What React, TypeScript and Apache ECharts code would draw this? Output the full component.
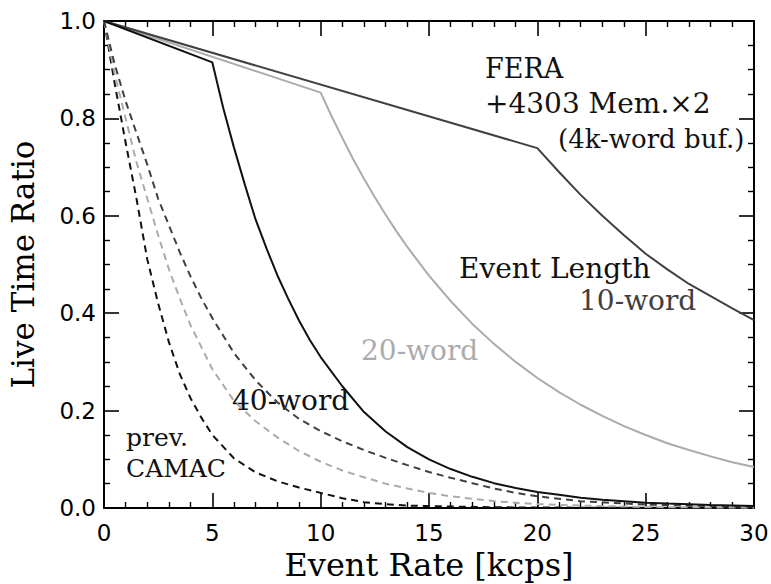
import React, { useEffect, useRef } from "react";
import * as echarts from "echarts";

// Event rate [kcps] vs live time ratio
const feraWord40: [number, number][] = [
  [0, 1], [5, 0.915], [5.5, 0.822], [6, 0.74], [6.5, 0.664], [7, 0.592], [7.5, 0.533], [8, 0.478],
  [8.5, 0.43], [9, 0.385], [9.5, 0.345], [10, 0.31], [11, 0.25], [12, 0.197], [13, 0.157], [14, 0.125],
  [15, 0.1], [16, 0.08], [17, 0.064], [18, 0.051], [19, 0.041], [20, 0.033], [21, 0.027], [22, 0.021],
  [23, 0.017], [24, 0.014], [25, 0.011], [26, 0.009], [27, 0.0075], [28, 0.006], [29, 0.005], [30, 0.004],
];
const feraWord20: [number, number][] = [
  [0, 1], [10, 0.853], [10.5, 0.805], [11, 0.76], [11.5, 0.716], [12, 0.676], [12.5, 0.638], [13, 0.602],
  [13.5, 0.568], [14, 0.536], [15, 0.477], [16, 0.425], [17, 0.378], [18, 0.337], [19, 0.3], [20, 0.267],
  [21, 0.238], [22, 0.212], [23, 0.189], [24, 0.168], [25, 0.15], [26, 0.133], [27, 0.119], [28, 0.106],
  [29, 0.094], [30, 0.084],
];
const feraWord10: [number, number][] = [
  [0, 1], [20, 0.739], [21, 0.69], [22, 0.643], [23, 0.6], [24, 0.56], [25, 0.522], [26, 0.49],
  [27, 0.46], [28, 0.435], [29, 0.41], [30, 0.386],
];
const camacWord40: [number, number][] = [
  [0, 1], [0.5, 0.87], [1, 0.75], [1.5, 0.635], [2, 0.51], [2.5, 0.42], [3, 0.34], [3.5, 0.275],
  [4, 0.225], [4.5, 0.185], [5, 0.15], [6, 0.102], [7, 0.073], [8, 0.055], [9, 0.042], [10, 0.031],
  [11, 0.02], [12, 0.012], [13, 0.008], [14, 0.005], [16, 0.003], [18, 0.0015], [20, 0.001],
  [25, 0.0003], [30, 0.0001],
];
const camacWord20: [number, number][] = [
  [0, 1], [0.5, 0.89], [1, 0.8], [1.5, 0.71], [2, 0.635], [2.5, 0.56], [3, 0.49], [3.5, 0.43],
  [4, 0.375], [5, 0.285], [6, 0.22], [7, 0.178], [8, 0.145], [9, 0.117], [10, 0.095], [11, 0.077],
  [12, 0.063], [13, 0.05], [14, 0.04], [15, 0.031], [16, 0.024], [17, 0.019], [18, 0.014], [20, 0.008],
  [22, 0.005], [25, 0.002], [30, 0.0006],
];
const camacWord10: [number, number][] = [
  [0, 1], [0.5, 0.91], [1, 0.835], [1.5, 0.77], [2, 0.705], [2.5, 0.635], [3, 0.58], [3.5, 0.525],
  [4, 0.475], [4.5, 0.43], [5, 0.39], [6, 0.318], [7, 0.262], [8, 0.217], [9, 0.183], [10, 0.158],
  [11, 0.137], [12, 0.119], [13, 0.103], [14, 0.088], [15, 0.074], [16, 0.062], [17, 0.051], [18, 0.04],
  [19, 0.031], [20, 0.024], [22, 0.014], [25, 0.007], [28, 0.004], [30, 0.003],
];

const xTicks = { min: 0, max: 30, interval: 5 };
const yTicks = { min: 0, max: 1, interval: 0.2 };

const BLACK = "#111111";
const DARK = "#404040";
const LIGHT = "#ababab";
const SERIF = "'DejaVu Serif', serif";
const SANS = "'DejaVu Sans', sans-serif";

export default function App() {
  const ref = useRef<HTMLDivElement>(null);

  useEffect(() => {
    document.body.style.margin = "0";
    if (!ref.current) return;
    const chart = echarts.init(ref.current, undefined, { renderer: "svg" });

    const axisCommon = {
      type: "value" as const,
      axisLine: { show: true, onZero: false, lineStyle: { color: "#000", width: 2 } },
      axisTick: { show: true, inside: true, length: 15, lineStyle: { color: "#000", width: 1.6 } },
      minorTick: { show: true, length: 6, lineStyle: { color: "#000", width: 1.4 } },
      splitLine: { show: false },
      minorSplitLine: { show: false },
    };

    const lineSeries = (name: string, data: [number, number][], color: string, dashed: boolean) => ({
      name,
      type: "line" as const,
      xAxisIndex: 0,
      yAxisIndex: 0,
      data,
      showSymbol: false,
      smooth: false,
      lineStyle: { color, width: 2, type: dashed ? [7, 5] : "solid" },
      silent: true,
    });

    const txt = (text: string, x: number, y: number, size: number, color = BLACK) => ({
      type: "text" as const,
      x,
      y,
      style: {
        text,
        fill: color,
        font: `${size}px ${SERIF}`,
        textAlign: "left",
        textVerticalAlign: "middle",
      },
    });

    chart.setOption({
      animation: false,
      backgroundColor: "#fff",
      grid: { left: 104, right: 17, top: 21, bottom: 76, outerBoundsMode: "none", containLabel: false },
      xAxis: [
        {
          ...axisCommon,
          ...xTicks,
          position: "bottom",
          minorTick: { ...axisCommon.minorTick, splitNumber: 5 },
          axisLabel: { color: "#000", fontSize: 23, fontFamily: SANS, margin: 13 },
          name: "Event Rate [kcps]",
          nameLocation: "middle",
          nameGap: 38,
          nameTextStyle: { color: "#000", fontSize: 32, fontFamily: SERIF },
        },
        {
          ...axisCommon,
          ...xTicks,
          position: "top",
          minorTick: { ...axisCommon.minorTick, splitNumber: 5 },
          axisLabel: { show: false },
        },
      ],
      yAxis: [
        {
          ...axisCommon,
          ...yTicks,
          position: "left",
          minorTick: { ...axisCommon.minorTick, splitNumber: 4 },
          axisLabel: {
            color: "#000",
            fontSize: 23,
            fontFamily: SANS,
            margin: 8,
            formatter: (v: number) => v.toFixed(1),
          },
          name: "Live Time Ratio",
          nameLocation: "middle",
          nameGap: 66,
          nameTextStyle: { color: "#000", fontSize: 31, fontFamily: SERIF },
        },
        {
          ...axisCommon,
          ...yTicks,
          position: "right",
          minorTick: { ...axisCommon.minorTick, splitNumber: 4 },
          axisLabel: { show: false },
        },
      ],
      series: [
        lineSeries("CAMAC 40-word", camacWord40, BLACK, true),
        lineSeries("CAMAC 20-word", camacWord20, LIGHT, true),
        lineSeries("CAMAC 10-word", camacWord10, DARK, true),
        lineSeries("FERA 20-word", feraWord20, LIGHT, false),
        lineSeries("FERA 10-word", feraWord10, DARK, false),
        lineSeries("FERA 40-word", feraWord40, BLACK, false),
      ],
      graphic: [
        txt("FERA", 485, 68, 27),
        txt("+4303 Mem.×2", 485, 103, 28),
        txt("(4k-word buf.)", 558, 139, 26),
        txt("Event Length", 459, 268, 28),
        txt("10-word", 579, 300, 28, DARK),
        txt("20-word", 361, 350, 28, LIGHT),
        txt("40-word", 232, 400, 28, BLACK),
        txt("prev.", 126, 437, 25),
        txt("CAMAC", 126, 468, 25),
      ],
    });

    return () => chart.dispose();
  }, []);

  return <div ref={ref} style={{ width: 771, height: 584 }} />;
}
